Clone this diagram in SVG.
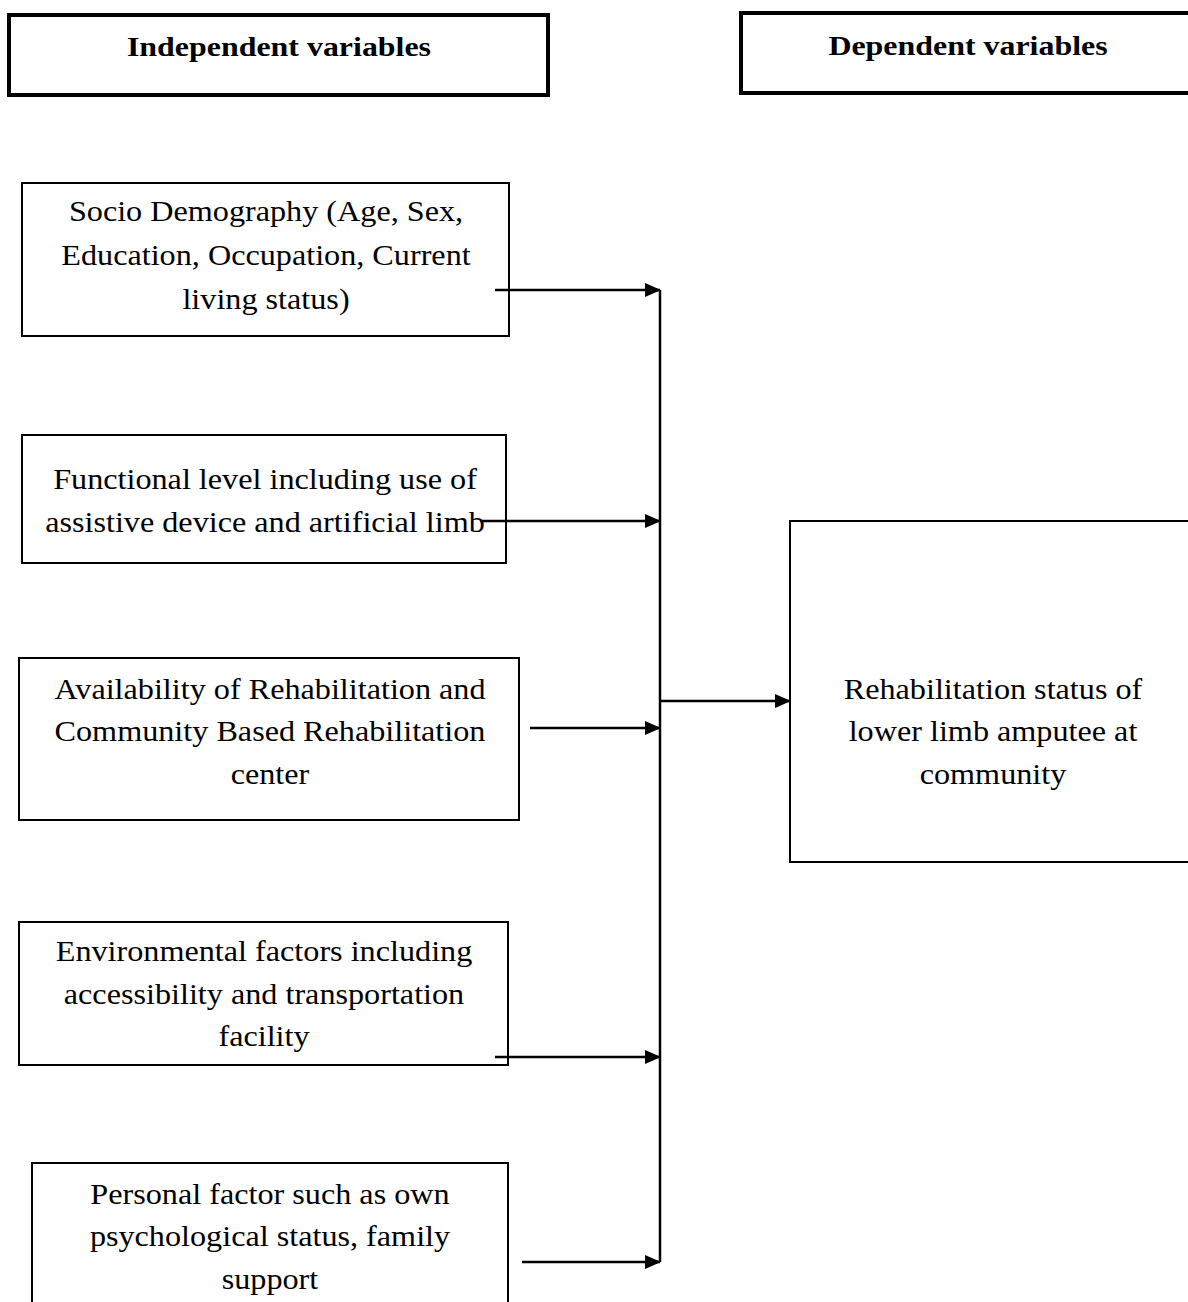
<svg xmlns="http://www.w3.org/2000/svg" width="1188" height="1302" viewBox="0 0 1188 1302">
<style>
.hdr{fill:#fff;stroke:#000;stroke-width:4}
.box{fill:#fff;stroke:#000;stroke-width:2}
.t{font-family:"Liberation Serif","Times New Roman",serif;font-size:28.5px;fill:#000;text-anchor:middle}
.b{font-weight:bold;font-size:28px}
.c{stroke:#000;stroke-width:2.5;fill:none}
</style>
<defs>
<marker id="ah" markerWidth="16" markerHeight="14" refX="15" refY="7" orient="auto" markerUnits="userSpaceOnUse">
<path d="M0,0 L16,7 L0,14 Z" fill="#000"/>
</marker>
</defs>
<rect width="1188" height="1302" fill="#fff"/>
<g id="hdr-indep">
<rect class="hdr" x="9" y="15" width="539" height="80"/>
<text class="t b" transform="translate(279 0) scale(1.14 1)" x="0" y="56">Independent variables</text>
</g>
<g id="hdr-dep">
<rect class="hdr" x="741" y="13" width="460" height="80"/>
<text class="t b" transform="translate(968 0) scale(1.14 1)" x="0" y="55">Dependent variables</text>
</g>
<g id="n-socio">
<rect class="box" x="22" y="183" width="487" height="153"/>
<text class="t" transform="translate(266 0) scale(1.13 1)" x="0" y="221">Socio Demography (Age, Sex,</text>
<text class="t" transform="translate(266 0) scale(1.13 1)" x="0" y="265">Education, Occupation, Current</text>
<text class="t" transform="translate(266 0) scale(1.13 1)" x="0" y="309">living status)</text>
</g>
<g id="n-functional">
<rect class="box" x="22" y="435" width="484" height="128"/>
<text class="t" transform="translate(265 0) scale(1.13 1)" x="0" y="489">Functional level including use of</text>
<text class="t" transform="translate(265 0) scale(1.13 1)" x="0" y="532">assistive device and artificial limb</text>
</g>
<g id="n-availability">
<rect class="box" x="19" y="658" width="500" height="162"/>
<text class="t" transform="translate(270 0) scale(1.13 1)" x="0" y="699">Availability of Rehabilitation and</text>
<text class="t" transform="translate(270 0) scale(1.13 1)" x="0" y="741">Community Based Rehabilitation</text>
<text class="t" transform="translate(270 0) scale(1.13 1)" x="0" y="784">center</text>
</g>
<g id="n-environmental">
<rect class="box" x="19" y="922" width="489" height="143"/>
<text class="t" transform="translate(264 0) scale(1.13 1)" x="0" y="961">Environmental factors including</text>
<text class="t" transform="translate(264 0) scale(1.13 1)" x="0" y="1004">accessibility and transportation</text>
<text class="t" transform="translate(264 0) scale(1.13 1)" x="0" y="1046">facility</text>
</g>
<g id="n-personal">
<rect class="box" x="32" y="1163" width="476" height="150"/>
<text class="t" transform="translate(270 0) scale(1.13 1)" x="0" y="1204">Personal factor such as own</text>
<text class="t" transform="translate(270 0) scale(1.13 1)" x="0" y="1246">psychological status, family</text>
<text class="t" transform="translate(270 0) scale(1.13 1)" x="0" y="1289">support</text>
</g>
<g id="n-dependent">
<rect class="box" x="790" y="521" width="410" height="341"/>
<text class="t" transform="translate(993 0) scale(1.13 1)" x="0" y="699">Rehabilitation status of</text>
<text class="t" transform="translate(993 0) scale(1.13 1)" x="0" y="741">lower limb amputee at</text>
<text class="t" transform="translate(993 0) scale(1.13 1)" x="0" y="784">community</text>
</g>
<g id="connectors">
<line class="c" x1="660" y1="290" x2="660" y2="1262"/>
<line class="c" x1="495" y1="290" x2="660" y2="290" marker-end="url(#ah)"/>
<line class="c" x1="480" y1="521" x2="660" y2="521" marker-end="url(#ah)"/>
<line class="c" x1="530" y1="728" x2="660" y2="728" marker-end="url(#ah)"/>
<line class="c" x1="495" y1="1057" x2="660" y2="1057" marker-end="url(#ah)"/>
<line class="c" x1="522" y1="1262" x2="660" y2="1262" marker-end="url(#ah)"/>
<line class="c" x1="660" y1="701" x2="790" y2="701" marker-end="url(#ah)"/>
</g>
</svg>
